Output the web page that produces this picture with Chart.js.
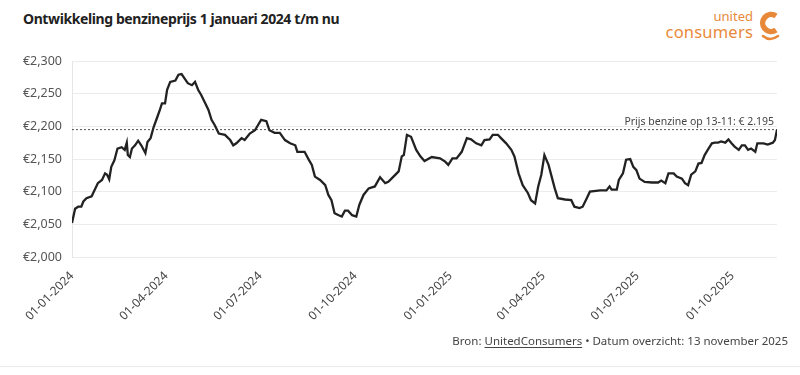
<!DOCTYPE html>
<html lang="nl">
<head>
<meta charset="utf-8">
<script src="https://cdn.jsdelivr.net/npm/chart.js@4.4.1/dist/chart.umd.min.js"></script>
<style>
  body { margin: 0; background: #fff; font-family: 'Noto Sans', sans-serif; }
  #wrap { position: relative; width: 800px; height: 375px; overflow: hidden; }
  #titel { position: absolute; left: 23px; top: 9px; font-size: 14px; font-weight: 700; color: #222; letter-spacing: -0.4px; }
  #logo { position: absolute; right: 18px; top: 8px; width: 130px; height: 36px; color: #e8893a; }
  #logo .united { position: absolute; right: 29px; top: 1px; font-size: 13px; line-height: 14px; }
  #logo .consumers { position: absolute; right: 29px; top: 15px; font-size: 16.5px; line-height: 18px; letter-spacing: 0.2px; }
  #logo svg { position: absolute; right: 0; top: 3px; }
  #bron { position: absolute; right: 12px; top: 333px; font-size: 11.5px; color: #444; }
  #bron u { text-underline-offset: 2px; }
  #lijn { position: absolute; left: 0; top: 366px; width: 800px; height: 1px; background: #ececec; }
  canvas { position: absolute; left: 0; top: 0; }
</style>
</head>
<body>
<div id="wrap">
  <div id="titel">Ontwikkeling benzineprijs 1 januari 2024 t/m nu</div>
  <div id="logo">
    <span class="united">united</span>
    <span class="consumers">consumers</span>
    <svg width="24" height="32" viewBox="0 0 24 32">
      <path d="M18 5 A8.5 8.5 0 1 0 18 19" fill="none" stroke="#e8893a" stroke-width="5.5" stroke-linecap="butt"/>
      <path d="M5 25 Q12 31 20 25" fill="none" stroke="#e8893a" stroke-width="2.5" stroke-linecap="round"/>
    </svg>
  </div>
  <canvas id="grafiek" width="800" height="375"></canvas>
  <div id="bron">Bron: <u>UnitedConsumers</u> • Datum overzicht: 13 november 2025</div>
  <div id="lijn"></div>
</div>

<script>
// gemiddelde benzineprijs (euro per liter)
const datums = [
  '2024-01-01','2024-01-04','2024-01-07','2024-01-10','2024-01-12','2024-01-15','2024-01-20','2024-01-23','2024-01-26','2024-01-30',
  '2024-02-02','2024-02-04','2024-02-06','2024-02-08','2024-02-11','2024-02-14','2024-02-18','2024-02-21','2024-02-23','2024-02-24',
  '2024-02-26','2024-02-28','2024-03-02','2024-03-05','2024-03-08','2024-03-12','2024-03-14','2024-03-17','2024-03-20','2024-03-23',
  '2024-03-26','2024-03-28','2024-03-31','2024-04-02','2024-04-05','2024-04-10','2024-04-13','2024-04-16','2024-04-19','2024-04-22',
  '2024-04-26','2024-04-29','2024-05-02','2024-05-05','2024-05-09','2024-05-12','2024-05-15','2024-05-18','2024-05-22','2024-05-28',
  '2024-06-02','2024-06-05','2024-06-08','2024-06-13','2024-06-16','2024-06-21','2024-06-26','2024-06-29','2024-07-02','2024-07-07',
  '2024-07-10','2024-07-15','2024-07-20','2024-07-25','2024-07-30','2024-08-04','2024-08-06','2024-08-13','2024-08-17','2024-08-20',
  '2024-08-23','2024-08-28','2024-09-02','2024-09-05','2024-09-08','2024-09-11','2024-09-15','2024-09-18','2024-09-21','2024-09-24',
  '2024-09-28','2024-10-02','2024-10-05','2024-10-09','2024-10-14','2024-10-20','2024-10-25','2024-10-30','2024-11-02','2024-11-07',
  '2024-11-12','2024-11-15','2024-11-17','2024-11-20','2024-11-24','2024-11-29','2024-12-03','2024-12-07','2024-12-14','2024-12-22',
  '2024-12-27','2024-12-30','2025-01-03','2025-01-07','2025-01-12','2025-01-17','2025-01-21','2025-01-26','2025-01-31','2025-02-03',
  '2025-02-08','2025-02-11','2025-02-16','2025-02-19','2025-02-24','2025-03-01','2025-03-04','2025-03-08','2025-03-12','2025-03-17',
  '2025-03-20','2025-03-24','2025-03-27','2025-03-30','2025-04-02','2025-04-06','2025-04-09','2025-04-12','2025-04-15','2025-04-22',
  '2025-04-28','2025-05-01','2025-05-06','2025-05-09','2025-05-13','2025-05-16','2025-05-26','2025-06-01','2025-06-04','2025-06-06',
  '2025-06-11','2025-06-13','2025-06-17','2025-06-20','2025-06-24','2025-06-27','2025-06-30','2025-07-03','2025-07-08','2025-07-15',
  '2025-07-21','2025-07-24','2025-07-28','2025-07-31','2025-08-05','2025-08-08','2025-08-13','2025-08-16','2025-08-19','2025-08-22',
  '2025-08-26','2025-08-29','2025-09-01','2025-09-04','2025-09-07','2025-09-11','2025-09-14','2025-09-17','2025-09-20','2025-09-24',
  '2025-09-27','2025-09-30','2025-10-03','2025-10-07','2025-10-10','2025-10-13','2025-10-16','2025-10-19','2025-10-23','2025-10-25',
  '2025-10-31','2025-11-04','2025-11-09','2025-11-11','2025-11-13'
];

const prijzen = [
  2.052,2.074,2.077,2.077,2.085,2.090,2.093,2.103,2.113,2.118,
  2.128,2.126,2.119,2.138,2.148,2.166,2.168,2.164,2.175,2.156,
  2.153,2.166,2.171,2.178,2.171,2.159,2.176,2.182,2.199,2.212,
  2.225,2.235,2.235,2.256,2.268,2.270,2.279,2.280,2.273,2.266,
  2.263,2.268,2.256,2.248,2.235,2.225,2.210,2.202,2.189,2.187,
  2.179,2.171,2.174,2.182,2.179,2.189,2.194,2.202,2.210,2.208,
  2.194,2.190,2.190,2.179,2.174,2.171,2.161,2.161,2.149,2.141,
  2.123,2.118,2.110,2.095,2.087,2.067,2.064,2.062,2.071,2.071,
  2.064,2.062,2.080,2.095,2.105,2.108,2.122,2.113,2.115,2.123,
  2.131,2.154,2.156,2.187,2.184,2.164,2.154,2.147,2.153,2.151,
  2.146,2.141,2.151,2.151,2.161,2.182,2.180,2.174,2.171,2.179,
  2.180,2.187,2.187,2.182,2.174,2.164,2.154,2.128,2.110,2.098,
  2.087,2.082,2.108,2.126,2.156,2.141,2.123,2.105,2.090,2.088,
  2.087,2.077,2.075,2.077,2.090,2.100,2.102,2.102,2.108,2.103,
  2.103,2.118,2.128,2.149,2.150,2.138,2.133,2.120,2.115,2.114,
  2.114,2.117,2.113,2.128,2.128,2.123,2.120,2.113,2.110,2.126,
  2.131,2.143,2.144,2.156,2.164,2.174,2.175,2.175,2.177,2.175,
  2.180,2.174,2.169,2.164,2.171,2.171,2.164,2.166,2.161,2.174,
  2.174,2.172,2.175,2.179,2.195
];

const tickLabels = ['01-01-2024','01-04-2024','01-07-2024','01-10-2024','01-01-2025','01-04-2025','01-07-2025','01-10-2025'];

const huidigePrijs = 2.195;
const annotatieTekst = 'Prijs benzine op 13-11: € 2.195';

// dagen sinds 1 januari 2024, zodat een lineaire as zonder datumadapter werkt
const start = Date.UTC(2024, 0, 1);
function dagVanIso(s) {
  const [j, m, d] = s.split('-').map(Number);
  return (Date.UTC(j, m - 1, d) - start) / 86400000;
}
function dagVanLabel(s) {
  const [d, m, j] = s.split('-').map(Number);
  return (Date.UTC(j, m - 1, d) - start) / 86400000;
}

const punten = datums.map((d, i) => ({ x: dagVanIso(d), y: prijzen[i] }));
const tickDagen = tickLabels.map(dagVanLabel);
const laatsteDag = punten[punten.length - 1].x;

const annotatiePlugin = {
  id: 'annotatie',
  afterDatasetsDraw(chart) {
    const { ctx, scales } = chart;
    ctx.save();
    ctx.font = '10.5px "Noto Sans", sans-serif';
    ctx.fillStyle = '#444';
    ctx.textAlign = 'right';
    ctx.textBaseline = 'bottom';
    ctx.fillText(annotatieTekst, scales.x.getPixelForValue(laatsteDag) - 3, scales.y.getPixelForValue(huidigePrijs) - 2);
    ctx.restore();
  }
};

new Chart(document.getElementById('grafiek'), {
  type: 'line',
  data: {
    datasets: [
      {
        label: 'benzineprijs',
        data: punten,
        borderColor: '#222',
        borderWidth: 2.3,
        pointRadius: 0,
        tension: 0,
        order: 1
      },
      {
        label: 'huidige prijs',
        data: [{ x: 0, y: huidigePrijs }, { x: laatsteDag, y: huidigePrijs }],
        borderColor: '#555',
        borderWidth: 1,
        borderDash: [2, 2],
        pointRadius: 0,
        order: 2
      }
    ]
  },
  options: {
    responsive: false,
    animation: false,
    layout: { padding: { top: 61, right: 23, bottom: 0, left: 0 } },
    plugins: { legend: { display: false }, tooltip: { enabled: false } },
    scales: {
      x: {
        type: 'linear',
        min: 0,
        max: laatsteDag,
        afterBuildTicks: (scale) => { scale.ticks = tickDagen.map(v => ({ value: v })); },
        afterFit: (scale) => { scale.height = 118; },
        grid: { display: false },
        border: { display: false },
        ticks: {
          autoSkip: false,
          maxRotation: 45,
          minRotation: 45,
          padding: 4,
          color: '#444',
          font: { family: 'Noto Sans', size: 12 },
          callback: (value, index) => tickLabels[index]
        }
      },
      y: {
        min: 2.0,
        max: 2.3,
        afterFit: (scale) => { scale.width = 72; },
        grid: { color: '#ececec', drawTicks: false },
        border: { display: true, color: '#e6e6e6' },
        ticks: {
          stepSize: 0.05,
          padding: 10,
          color: '#555',
          font: { family: 'Noto Sans', size: 12.5 },
          callback: (value) => '€' + value.toFixed(3).replace('.', ',')
        }
      }
    }
  },
  plugins: [annotatiePlugin]
});
</script>
</body>
</html>
